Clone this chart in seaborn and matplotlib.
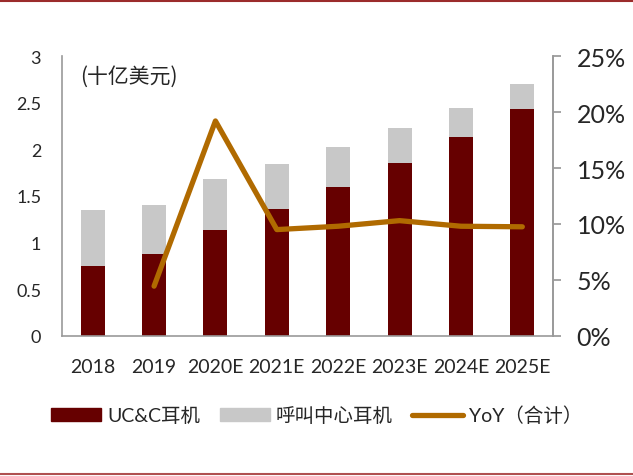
import numpy as np
import pandas as pd
import seaborn as sns
import matplotlib.pyplot as plt
from matplotlib.lines import Line2D
from matplotlib.patches import Patch

years = ["2018", "2019", "2020E", "2021E", "2022E", "2023E", "2024E", "2025E"]
ucc = [0.75, 0.875, 1.135, 1.36, 1.595, 1.855, 2.135, 2.43]
call_center = [0.60, 0.53, 0.545, 0.48, 0.425, 0.375, 0.31, 0.265]
yoy_years = ["2019", "2020E", "2021E", "2022E", "2023E", "2024E", "2025E"]
yoy = [4.45, 19.2, 9.5, 9.8, 10.3, 9.8, 9.75]

DARK = "#660000"
GRAY = "#C8C8C8"
GOLD = "#B06A00"
AXC = "#999999"

sns.set_theme(style="white")
plt.rcParams["font.family"] = ["Lato", "Noto Sans CJK SC", "DejaVu Sans"]

df = pd.DataFrame({"year": years, "ucc": ucc, "cc": call_center})
df["total"] = df["ucc"] + df["cc"]
dy = pd.DataFrame({"pos": [years.index(y) for y in yoy_years], "yoy": yoy})

fig = plt.figure(figsize=(6.33, 4.77), dpi=100)
ax = fig.add_axes([62 / 633, 1 - 337 / 477, (553 - 62) / 633, (337 - 57) / 477])

sns.barplot(data=df, x="year", y="total", color=GRAY, width=0.39, ax=ax,
            saturation=1, edgecolor="none")
sns.barplot(data=df, x="year", y="ucc", color=DARK, width=0.39, ax=ax,
            saturation=1, edgecolor="none")

ax.set_xlim(-0.5, 7.5)
ax.set_ylim(0, 3)
ax.set_yticks([0, 0.5, 1, 1.5, 2, 2.5, 3])
ax.set_yticklabels(["0", "0.5", "1", "1.5", "2", "2.5", "3"], fontsize=13)
ax.set_xlabel("")
ax.set_ylabel("")
ax.tick_params(axis="y", length=0, pad=15)
ax.tick_params(axis="x", which="major", length=0, labelsize=14, pad=16)
ax.set_xticks(np.arange(-0.5, 8, 1), minor=True)
ax.tick_params(axis="x", which="minor", length=6, color=AXC, direction="out")
ax.spines["top"].set_visible(False)
for s in ["left", "bottom", "right"]:
    ax.spines[s].set_color(AXC)
    ax.spines[s].set_linewidth(1.2)

ax2 = ax.twinx()
sns.lineplot(data=dy, x="pos", y="yoy", color=GOLD, linewidth=3.8, ax=ax2,
             solid_capstyle="round")
ax2.set_ylim(0, 25)
ax2.set_xlim(-0.5, 7.5)
ax2.set_yticks([0, 5, 10, 15, 20, 25])
ax2.set_yticklabels([f"{v}%" for v in [0, 5, 10, 15, 20, 25]], fontsize=18)
ax2.set_ylabel("")
ax2.set_xlabel("")
ax2.tick_params(axis="y", length=6, color=AXC, direction="out", pad=11)
for s in ["top", "left", "bottom"]:
    ax2.spines[s].set_visible(False)
ax2.spines["right"].set_color(AXC)
ax2.spines["right"].set_linewidth(1.2)

ax.text(0.037, 0.97, "(十亿美元)", transform=ax.transAxes, fontsize=15,
        va="top", ha="left", family=["Noto Sans CJK SC", "DejaVu Sans"])

handles = [Patch(color=DARK), Patch(color=GRAY),
           Line2D([0], [0], color=GOLD, linewidth=3.8, solid_capstyle="round")]
labels = ["UC&C耳机", "呼叫中心耳机", "YoY（合计）"]
fig.legend(handles, labels, loc="center", bbox_to_anchor=(0.5, 1 - 416 / 477),
           ncol=3, frameon=False, fontsize=14, handlelength=2.6, handleheight=0.6,
           columnspacing=1.0, handletextpad=0.3)

fig.add_artist(Line2D([0, 1], [1 - 2 / 477] * 2, color="#9B2B2B", linewidth=1.5))
fig.add_artist(Line2D([0, 1], [1 - 475 / 477] * 2, color="#B05050", linewidth=1.5))

fig.savefig("out.png", dpi=100)
